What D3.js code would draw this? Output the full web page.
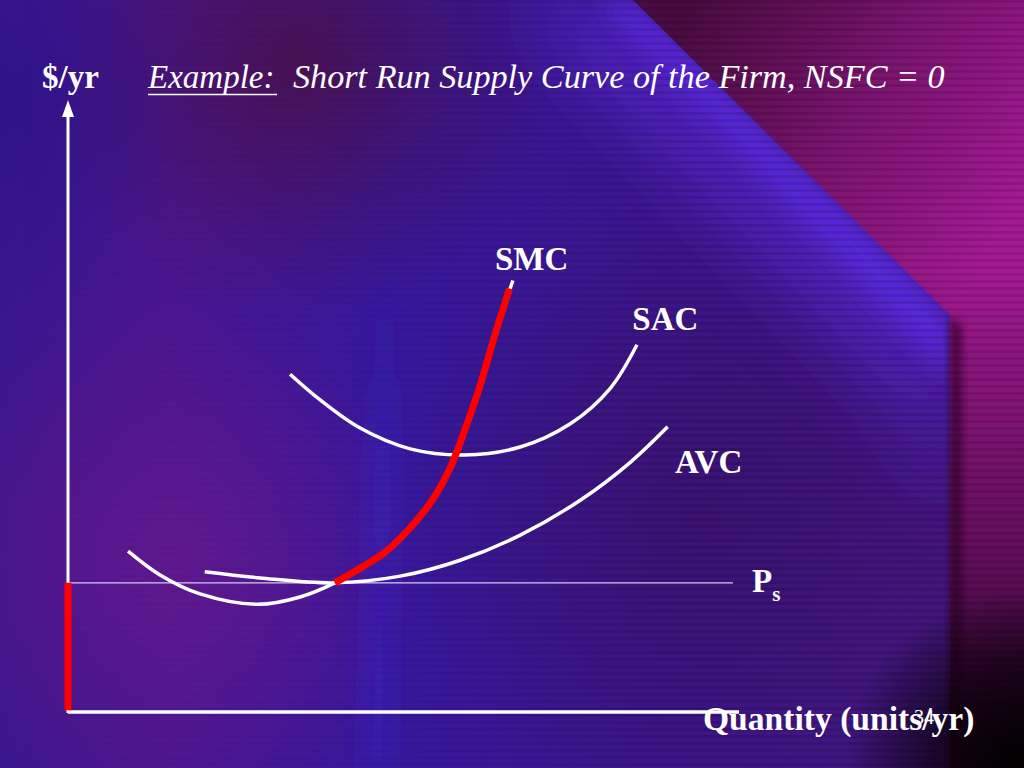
<!DOCTYPE html>
<html><head><meta charset="utf-8">
<script src="https://cdn.jsdelivr.net/npm/d3@7"></script>
<style>html,body{margin:0;padding:0;background:#2a1070;overflow:hidden}</style>
</head><body>
<script>
// ---- data (Quantity, $/yr) ----
const smcCurve = [[0.90,2.63],[1.38,2.24],[1.98,1.93],[2.85,1.76],[3.48,1.88],[4.00,2.11],[4.38,2.35],[4.75,2.61],[5.13,3.01],[5.46,3.46],[5.73,3.99],[5.95,4.61],[6.18,5.34],[6.40,6.16],[6.67,7.05]];
const supplyCurve = [[4.00,2.11],[4.38,2.35],[4.75,2.61],[5.13,3.01],[5.46,3.46],[5.73,3.99],[5.95,4.61],[6.18,5.34],[6.40,6.16],[6.62,6.92]];
const sacCurve = [[3.33,5.52],[3.78,5.10],[4.38,4.64],[5.13,4.30],[5.95,4.20],[6.78,4.33],[7.53,4.71],[8.13,5.29],[8.53,6.00]];
const avcCurve = [[2.05,2.29],[2.88,2.19],[4.00,2.11],[4.98,2.22],[5.88,2.48],[6.78,2.89],[7.68,3.46],[8.43,4.08],[8.99,4.66]];
const shutdownSegment = [[0,0.03],[0,2.11]];
const priceLevel = 2.11;
const curveLabels = ["SMC","SAC","AVC"];
const labelQ = [6.40, 8.46, 9.10];
const labelP = [7.22, 6.24, 3.90];
const priceLabel = "P", priceSub = "s";
const titleLead = "Example:";
const titleRest = "Short Run Supply Curve of the Firm, NSFC = 0";
const yTitle = "$/yr";
const xTitle = "Quantity (units/yr)";
const slideNo = "34";

const W = 1024, H = 768;
const svg = d3.select("body").append("svg").attr("width", W).attr("height", H);
const defs = svg.append("defs");

// ---- background ----
function lg(id, x1,y1,x2,y2, stops){
  const g = defs.append("linearGradient").attr("id",id).attr("gradientUnits","userSpaceOnUse")
    .attr("x1",x1).attr("y1",y1).attr("x2",x2).attr("y2",y2);
  stops.forEach(s=>g.append("stop").attr("offset",s[0]).attr("stop-color",s[1]).attr("stop-opacity",s[2]==null?1:s[2]));
}
function rg(id, cx,cy,r, stops){
  const g = defs.append("radialGradient").attr("id",id).attr("gradientUnits","userSpaceOnUse")
    .attr("cx",cx).attr("cy",cy).attr("r",r);
  stops.forEach(s=>g.append("stop").attr("offset",s[0]).attr("stop-color",s[1]).attr("stop-opacity",s[2]==null?1:s[2]));
}
lg("base",0,0,950,0,[[0,"#3a168c"],[0.18,"#4a1690"],[0.4,"#36189c"],[0.7,"#3c168c"],[1,"#44167e"]]);
rg("purp1",170,560,260,[[0,"#62188e",0.9],[1,"#62188e",0]]);
rg("maroon",300,60,260,[[0,"#4a1048",0.85],[1,"#4a1048",0]]);
rg("leftTop",0,100,220,[[0,"#2a1288",0.7],[1,"#2a1288",0]]);
rg("midDark",700,520,300,[[0,"#3a1068",0.7],[1,"#3a1068",0]]);
lg("right",700,0,1024,200,[[0,"#4a0c40"],[0.5,"#7a1470"],[1,"#a41a94"]]);
lg("rightV",0,0,0,768,[[0,"#000",0],[0.35,"#000",0],[0.7,"#1a0020",0.45],[1,"#100010",0.85]]);
rg("corner",1024,768,180,[[0,"#000",1],[0.5,"#080008",0.7],[1,"#000",0]]);
lg("streak",0,280,0,768,[[0,"#3c24c0",0],[0.35,"#3c24c0",0.55],[1,"#3c24c0",0.5]]);

function blur(id, sd){
  defs.append("filter").attr("id",id).attr("x","-50%").attr("y","-50%").attr("width","200%").attr("height","200%")
    .append("feGaussianBlur").attr("stdDeviation",sd);
}
blur("blur40",40); blur("blur12",12); blur("blur4",4);

const bg = svg.append("g");
bg.append("rect").attr("width",W).attr("height",H).attr("fill","url(#base)");
bg.append("rect").attr("width",W).attr("height",H).attr("fill","url(#purp1)");
bg.append("rect").attr("width",W).attr("height",H).attr("fill","url(#maroon)");
bg.append("rect").attr("width",W).attr("height",H).attr("fill","url(#leftTop)");
bg.append("rect").attr("width",W).attr("height",H).attr("fill","url(#midDark)");
bg.append("path").attr("d","M376,280 L396,280 L392,768 L362,768 Z").attr("fill","url(#streak)").attr("filter","url(#blur12)");
bg.append("path").attr("d","M520,0 L633,0 L950,315 L950,520 L900,400 Z")
  .attr("fill","#5426d0").attr("opacity",0.85).attr("filter","url(#blur40)");
bg.append("path").attr("d","M600,0 L633,0 L950,315 L950,380 Z")
  .attr("fill","#5a2ae0").attr("opacity",0.9).attr("filter","url(#blur12)");
bg.append("path").attr("d","M633,0 L1024,0 L1024,768 L950,768 L950,315 Z").attr("fill","url(#right)");
bg.append("path").attr("d","M633,0 L1024,0 L1024,768 L950,768 L950,315 Z").attr("fill","url(#rightV)");
bg.append("path").attr("d","M950,315 L962,328 L962,768 L950,768 Z").attr("fill","#2a0628").attr("opacity",0.7).attr("filter","url(#blur4)");
const pat = defs.append("pattern").attr("id","stripes").attr("patternUnits","userSpaceOnUse").attr("width",8).attr("height",7);
pat.append("rect").attr("y",0).attr("width",8).attr("height",3).attr("fill","#000").attr("opacity",0.12);
lg("stripeMask",0,0,1024,0,[[0,"#fff",0],[0.4,"#fff",0.3],[0.7,"#fff",1],[1,"#fff",1]]);
defs.append("mask").attr("id","sm").append("rect").attr("width",W).attr("height",H).attr("fill","url(#stripeMask)");
bg.append("rect").attr("width",W).attr("height",H).attr("fill","url(#stripes)").attr("mask","url(#sm)");
bg.append("rect").attr("width",W).attr("height",H).attr("fill","url(#corner)");

// ---- scales ----
const x = d3.scaleLinear().domain([0,10]).range([68,735]);
const y = d3.scaleLinear().domain([0,10]).range([712,100]);
const line = d3.line().x(d=>x(d[0])).y(d=>y(d[1])).curve(d3.curveCatmullRom.alpha(0.5));

const g = svg.append("g");
g.append("line").attr("x1",x(0)).attr("x2",x(0)).attr("y1",y(0)+1).attr("y2",y(10)+14)
  .attr("stroke","#fff").attr("stroke-width",3);
g.append("path").attr("d",`M${x(0)},${y(10)} L${x(0)-6},${y(10)+17} L${x(0)+6},${y(10)+17} Z`).attr("fill","#fff");
g.append("line").attr("x1",x(0)).attr("x2",x(10)+4).attr("y1",y(0)).attr("y2",y(0))
  .attr("stroke","#fff").attr("stroke-width",3.5);

g.append("line").attr("x1",x(0)).attr("x2",x(10)-2).attr("y1",y(priceLevel)).attr("y2",y(priceLevel))
  .attr("stroke","#d8c8f4").attr("stroke-width",1.4);

[smcCurve, sacCurve, avcCurve].forEach(c=>{
  g.append("path").attr("d",line(c)).attr("fill","none").attr("stroke","#fff").attr("stroke-width",3.5);
});
g.append("path").attr("d",line(supplyCurve)).attr("fill","none").attr("stroke","#ff0000").attr("stroke-width",7);
g.append("path").attr("d",d3.line().x(d=>x(d[0])).y(d=>y(d[1]))(shutdownSegment))
  .attr("fill","none").attr("stroke","#ff0000").attr("stroke-width",7);

// ---- text ----
const serif = "'Liberation Serif','Times New Roman',serif";
const FS = 33;
curveLabels.forEach((t,i)=>{
  g.append("text").attr("x",x(labelQ[i])).attr("y",y(labelP[i])).text(t)
    .attr("font-family",serif).attr("font-weight","bold").attr("font-size",FS).attr("fill","#fff");
});
const pt = g.append("text").attr("x",752).attr("y",y(priceLevel)+9)
  .attr("font-family",serif).attr("font-weight","bold").attr("font-size",FS).attr("fill","#fff");
pt.append("tspan").text(priceLabel);
pt.append("tspan").attr("font-size",21).attr("dy",9).text(priceSub);

g.append("text").attr("x",42).attr("y",88).text(yTitle)
  .attr("font-family",serif).attr("font-weight","bold").attr("font-size",FS).attr("fill","#fff");
g.append("text").attr("x",148).attr("y",88).text(titleLead)
  .attr("font-family",serif).attr("font-style","italic").attr("font-size",FS).attr("fill","#fff");
g.append("line").attr("x1",148).attr("x2",277).attr("y1",94.5).attr("y2",94.5).attr("stroke","#fff").attr("stroke-width",1.6);
g.append("text").attr("x",293).attr("y",88).text(titleRest)
  .attr("font-family",serif).attr("font-style","italic").attr("font-size",34.2).attr("fill","#fff");

g.append("text").attr("x",703).attr("y",730).text(xTitle)
  .attr("font-family",serif).attr("font-weight","bold").attr("font-size",33.6).attr("fill","#fff");
g.append("text").attr("x",914).attr("y",724).text(slideNo)
  .attr("font-family",serif).attr("font-size",20).attr("fill","#fff");
</script>
</body></html>
